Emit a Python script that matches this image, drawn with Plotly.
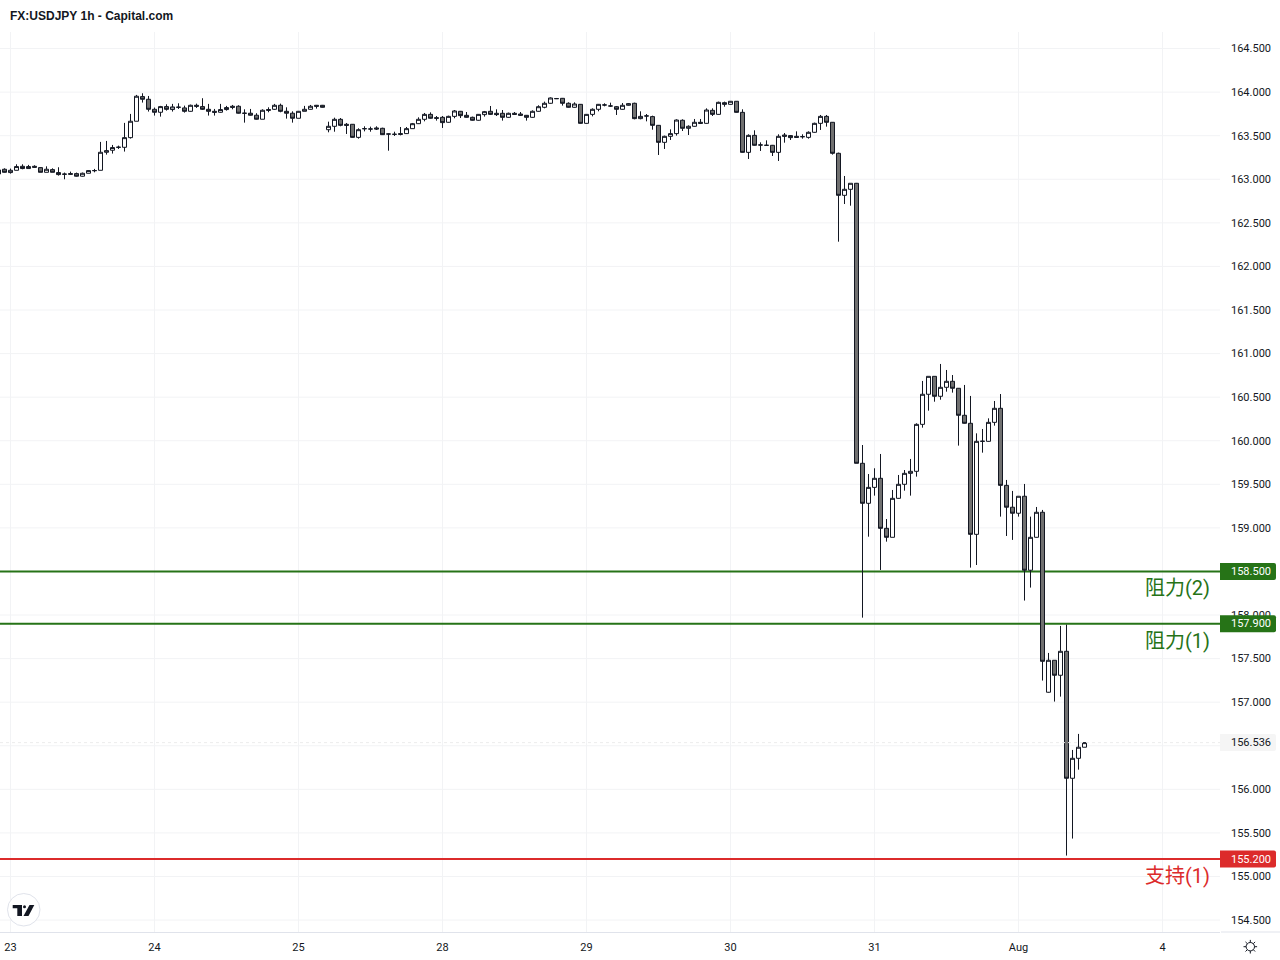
import math
import plotly.graph_objects as go

# hourly candles, oldest first (index -2 is the partly hidden bar at the left edge)
start_index = -2
opens = [163.107,163.115,163.077,163.103,163.149,163.123,163.149,163.134,163.080,163.111,163.077,163.060,163.065,163.065,163.035,163.069,163.099,163.103,163.310,163.333,163.366,163.367,163.478,163.666,163.949,163.918,163.803,163.769,163.834,163.800,163.826,163.819,163.780,163.849,163.834,163.803,163.780,163.769,163.800,163.838,163.838,163.757,163.758,163.735,163.689,163.800,163.803,163.849,163.780,163.758,163.700,163.780,163.803,163.849,163.849,
163.569,163.608,163.688,163.631,163.631,163.481,163.580,163.577,163.589,163.585,163.519,163.516,163.524,163.524,163.581,163.638,163.688,163.745,163.707,163.711,163.654,163.722,163.780,163.734,163.711,163.677,163.742,163.780,163.757,163.757,163.711,163.757,163.749,163.734,163.711,163.780,163.826,163.872,163.925,163.929,163.872,163.826,163.860,163.642,163.745,163.803,163.852,163.841,163.833,163.803,163.849,163.872,163.696,163.726,163.719,163.619,
163.424,163.493,163.524,163.677,163.585,163.608,163.654,163.642,163.791,163.745,163.879,163.860,163.895,163.768,163.309,163.504,163.393,163.390,163.390,163.309,163.508,163.501,163.493,163.489,163.481,163.539,163.642,163.722,163.654,163.298,162.816,162.885,162.954,
159.741,159.282,159.465,159.569,158.995,158.892,159.339,159.500,159.626,159.649,160.188,160.533,160.739,160.510,160.613,160.682,160.602,160.292,160.200,158.926,159.993,159.993,160.211,160.372,159.488,159.237,159.168,159.363,158.514,158.892,159.179,157.114,157.481,157.309,157.584,156.127,156.356,156.483]
highs = [163.115,163.126,163.123,163.172,163.172,163.165,163.161,163.138,163.149,163.126,163.138,163.077,163.088,163.077,163.077,163.103,163.119,163.429,163.440,163.394,163.386,163.647,163.750,163.968,163.987,163.956,163.823,163.842,163.861,163.865,163.872,163.845,163.857,163.868,163.930,163.865,163.807,163.865,163.842,163.853,163.849,163.803,163.807,163.758,163.803,163.826,163.865,163.868,163.826,163.780,163.784,163.842,163.853,163.853,163.853,
163.661,163.707,163.703,163.646,163.634,163.585,163.608,163.604,163.608,163.592,163.524,163.546,163.600,163.600,163.646,163.711,163.761,163.768,163.726,163.726,163.730,163.795,163.784,163.772,163.719,163.749,163.784,163.841,163.803,163.795,163.765,163.772,163.772,163.738,163.791,163.849,163.891,163.940,163.933,163.933,163.883,163.883,163.864,163.749,163.814,163.864,163.872,163.879,163.841,163.875,163.875,163.879,163.780,163.749,163.730,163.623,
163.501,163.573,163.688,163.688,163.619,163.692,163.692,163.814,163.814,163.891,163.891,163.898,163.898,163.803,163.516,163.562,163.424,163.447,163.394,163.516,163.531,163.508,163.550,163.516,163.550,163.650,163.738,163.738,163.657,163.306,163.038,162.954,162.958,
159.951,159.618,159.684,159.848,159.102,159.435,159.607,159.664,159.791,160.200,160.686,160.739,160.739,160.881,160.812,160.754,160.605,160.640,160.514,160.085,160.135,160.257,160.456,160.536,159.550,159.424,159.363,159.504,159.129,159.240,159.206,157.565,157.481,157.875,157.890,156.452,156.636,156.540]
lows = [163.061,163.077,163.065,163.103,163.115,163.123,163.134,163.080,163.080,163.080,163.042,163.000,163.054,163.031,163.031,163.069,163.080,163.103,163.283,163.295,163.348,163.318,163.467,163.666,163.880,163.777,163.731,163.719,163.788,163.777,163.807,163.765,163.777,163.819,163.796,163.731,163.731,163.765,163.788,163.803,163.754,163.650,163.731,163.685,163.689,163.769,163.796,163.769,163.696,163.650,163.700,163.780,163.800,163.811,163.823,
163.539,163.546,163.608,163.520,163.478,163.466,163.550,163.546,163.566,163.508,163.328,163.497,163.504,163.520,163.581,163.634,163.665,163.696,163.673,163.589,163.650,163.700,163.703,163.707,163.673,163.673,163.719,163.738,163.726,163.673,163.707,163.738,163.726,163.673,163.707,163.776,163.814,163.868,163.921,163.845,163.822,163.822,163.638,163.638,163.722,163.780,163.837,163.830,163.738,163.799,163.845,163.688,163.688,163.665,163.569,163.279,
163.348,163.451,163.501,163.554,163.508,163.604,163.634,163.638,163.726,163.742,163.833,163.856,163.765,163.306,163.233,163.386,163.325,163.386,163.267,163.210,163.420,163.451,163.478,163.466,163.466,163.535,163.566,163.604,163.283,162.284,162.716,162.697,159.741,
157.970,158.899,159.370,158.517,158.842,158.892,159.335,159.427,159.370,159.588,160.150,160.345,160.448,160.471,160.563,160.552,159.944,160.196,158.544,158.574,159.863,159.990,160.173,159.129,158.907,158.862,159.129,158.166,158.315,158.889,157.248,157.110,157.007,157.064,155.240,155.435,156.226,156.483]
closes = [163.061,163.080,163.103,163.146,163.123,163.146,163.138,163.080,163.115,163.080,163.054,163.058,163.058,163.035,163.069,163.100,163.100,163.310,163.329,163.364,163.368,163.478,163.666,163.953,163.918,163.803,163.769,163.834,163.803,163.830,163.827,163.780,163.849,163.838,163.803,163.780,163.769,163.800,163.823,163.826,163.758,163.758,163.735,163.689,163.792,163.792,163.849,163.780,163.758,163.700,163.780,163.803,163.838,163.838,163.826,
163.608,163.688,163.619,163.619,163.481,163.569,163.581,163.577,163.577,163.512,163.520,163.516,163.516,163.581,163.638,163.688,163.745,163.700,163.700,163.650,163.722,163.784,163.730,163.711,163.677,163.745,163.776,163.745,163.742,163.711,163.757,163.745,163.734,163.711,163.780,163.833,163.872,163.933,163.926,163.872,163.826,163.864,163.642,163.745,163.803,163.860,163.853,163.841,163.803,163.849,163.868,163.696,163.722,163.727,163.619,163.424,
163.493,163.524,163.680,163.585,163.608,163.654,163.642,163.795,163.745,163.883,163.860,163.895,163.768,163.309,163.504,163.390,163.394,163.390,163.309,163.493,163.493,163.478,163.481,163.489,163.539,163.642,163.722,163.654,163.298,162.816,162.885,162.954,159.741,
159.282,159.465,159.569,158.995,158.892,159.339,159.500,159.626,159.649,160.188,160.533,160.739,160.510,160.613,160.682,160.602,160.292,160.200,158.926,159.993,159.994,160.211,160.372,159.488,159.237,159.168,159.363,158.514,158.892,159.179,157.469,157.481,157.309,157.584,156.127,156.356,156.483,156.536]

day_labels = ["23", "24", "25", "28", "29", "30", "31", "Aug", "4"]
bars_per_day = 24
price_ticks = [154.5, 155.0, 155.5, 156.0, 156.5, 157.0, 157.5, 158.0, 158.5, 159.0, 159.5, 160.0,
               160.5, 161.0, 161.5, 162.0, 162.5, 163.0, 163.5, 164.0, 164.5]
level_prices = [158.5, 157.9, 155.2]
level_names = ["阻力(2)", "阻力(1)", "支持(1)"]
level_colors = ["#267317", "#267317", "#dc2b2b"]
title_text = "FX:USDJPY 1h - Capital.com"

n = min(len(opens), len(highs), len(lows), len(closes))
xs = [start_index + i for i in range(n)]
day_ticks = [i * bars_per_day for i in range(len(day_labels))]

W, H = 1280, 960
PL, PR, PT, PB = 0, 1220, 32, 932
INK = "#131722"
GRID = "#f2f3f5"
LABEL_FONT = "Roboto"
px = lambda v: (v - PL) / (PR - PL)
py = lambda v: (PB - v) / (PB - PT)
TAG_PATH = "M0,-8.5 L54,-8.5 Q56,-8.5 56,-6.5 L56,6.5 Q56,8.5 54,8.5 L0,8.5 Z"

fig = go.Figure(go.Candlestick(
    x=xs, open=opens[:n], high=highs[:n], low=lows[:n], close=closes[:n],
    whiskerwidth=0, hoverinfo="skip",
    increasing=dict(line=dict(color=INK, width=1), fillcolor="#ffffff"),
    decreasing=dict(line=dict(color=INK, width=1), fillcolor="#707070"),
))

shapes = []
annotations = []
# gridlines as lower shapes so the level lines stay solid over them
for v in price_ticks:
    shapes.append(dict(type="line", xref="paper", x0=0, x1=1, yref="y", y0=v, y1=v,
                       line=dict(color=GRID, width=1), layer="below"))
for v in day_ticks:
    shapes.append(dict(type="line", xref="x", x0=v, x1=v, yref="paper", y0=0, y1=1,
                       line=dict(color=GRID, width=1), layer="below"))

for price, name, color in zip(level_prices, level_names, level_colors):
    shapes.append(dict(type="line", xref="paper", x0=0, x1=1, yref="y", y0=price, y1=price,
                       line=dict(color=color, width=2), layer="below"))
    shapes.append(dict(type="path", xref="paper", xsizemode="pixel", xanchor=1, yref="y", ysizemode="pixel",
                       yanchor=price, path=TAG_PATH, fillcolor=color, line_width=0, layer="above"))
    annotations.append(dict(xref="paper", x=1, xanchor="left", xshift=9, yref="y", y=price,
                            yanchor="middle", text=f"{price:.3f}", showarrow=False,
                            font=dict(family=LABEL_FONT, size=11, color="#ffffff")))
    annotations.append(dict(xref="paper", x=px(1212), xanchor="right", yref="y", y=price,
                            yanchor="top", yshift=-3, text=name, showarrow=False,
                            font=dict(family="Roboto, 'Noto Sans CJK SC'", size=20, color=color)))

last = closes[n - 1]
shapes.append(dict(type="line", xref="paper", x0=0, x1=1, yref="y", y0=last, y1=last,
                   line=dict(color="#ececec", width=1, dash="dot"), layer="above"))
shapes.append(dict(type="path", xref="paper", xsizemode="pixel", xanchor=1, yref="y", ysizemode="pixel",
                   yanchor=last, path=TAG_PATH, fillcolor="#f5f5f5", line_width=0, layer="above"))
annotations.append(dict(xref="paper", x=1, xanchor="left", xshift=9, yref="y", y=last, yanchor="middle",
                        text=f"{last:.3f}", showarrow=False, font=dict(family=LABEL_FONT, size=11, color=INK)))

# bottom axis line continues under the price scale
shapes.append(dict(type="line", xref="paper", x0=px(1221), x1=px(1280), yref="paper", y0=0, y1=0,
                   line=dict(color="#e0e3eb", width=1), layer="above"))

# round logo badge
shapes.append(dict(type="circle", xref="paper", yref="paper", x0=px(7.5), x1=px(40), y0=py(926), y1=py(893.5),
                   fillcolor="#ffffff", line=dict(color="#e0e3eb", width=1), layer="above"))
def poly(pts):
    return "M " + " L ".join(f"{px(a):.6f},{py(b):.6f}" for a, b in pts) + " Z"
logo_paths = [
    [(12.7, 905), (22, 905), (22, 916), (17.3, 916), (17.3, 908.3), (12.7, 908.3)],
    [(29.5, 905), (34.3, 905), (28.5, 916), (23.5, 916)],
]
for pts in logo_paths:
    shapes.append(dict(type="path", xref="paper", yref="paper", path=poly(pts), fillcolor=INK, line_width=0, layer="above"))
shapes.append(dict(type="circle", xref="paper", yref="paper", x0=px(23), x1=px(26), y0=py(908.2), y1=py(905.2),
                   fillcolor=INK, line_width=0, layer="above"))

# settings icon
gx, gy = 1250.3, 946.7
shapes.append(dict(type="circle", xref="paper", yref="paper", x0=px(gx - 4.2), x1=px(gx + 4.2), y0=py(gy + 4.2), y1=py(gy - 4.2),
                   fillcolor="rgba(0,0,0,0)", line=dict(color=INK, width=1), layer="above"))
for i in range(8):
    a = i * math.pi / 4
    shapes.append(dict(type="line", xref="paper", yref="paper",
                       x0=px(gx + 4.2 * math.cos(a)), x1=px(gx + 6.8 * math.cos(a)),
                       y0=py(gy + 4.2 * math.sin(a)), y1=py(gy + 6.8 * math.sin(a)),
                       line=dict(color=INK, width=1), layer="above"))

annotations.append(dict(xref="paper", yref="paper", x=px(8), xanchor="left", y=py(15.5), yanchor="middle",
                        text=f"<b>{title_text}</b>", showarrow=False,
                        font=dict(family="Liberation Sans", size=12, color=INK)))

# the 156.500 label sits behind the last-price tag in the chart
fig.update_layout(
    width=W, height=H,
    margin=dict(l=PL, r=W - PR, t=PT, b=H - PB, pad=0),
    paper_bgcolor="#ffffff", plot_bgcolor="#ffffff",
    showlegend=False, boxgap=1 / 3, boxgroupgap=0,
    shapes=shapes, annotations=annotations,
    font=dict(family=LABEL_FONT, size=11, color=INK),
    xaxis=dict(range=[-1.75, 201.583], rangeslider=dict(visible=False),
               tickmode="array", tickvals=day_ticks, ticktext=day_labels,
               showgrid=False, zeroline=False,
               showline=True, linecolor="#e0e3eb", linewidth=1, ticks="", ticklabelstandoff=5),
    yaxis=dict(side="right", range=[154.363, 164.690], tickmode="array", tickvals=price_ticks,
               ticktext=["" if v == 156.5 else f"{v:.3f}" for v in price_ticks],
               showgrid=False, zeroline=False, showline=False,
               ticks="", ticklabelstandoff=10),
)

fig.write_html("out.html", config={"displayModeBar": False}, post_script="document.body.style.margin='0';")
